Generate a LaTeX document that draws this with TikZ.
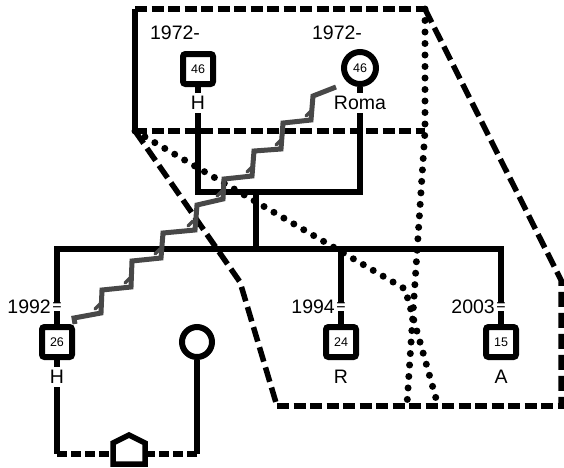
\documentclass[tikz,border=0pt]{standalone}
\usepackage{fontspec}
\setmainfont{Liberation Sans}
\definecolor{stairgray}{RGB}{72,72,72}
\tikzset{
  rel/.style={line width=5.5pt, line join=miter},
  reldash/.style={line width=5.5pt, dash pattern=on 10pt off 4pt},
  frdash/.style={line width=5.5pt, dash pattern=on 12pt off 4.5pt},
  frdashlong/.style={line width=5.5pt, dash pattern=on 15pt off 6pt},
  frdot/.style={line width=7pt, dash pattern=on 0pt off 11.5pt, line cap=round},
  stairline/.style={draw=stairgray, line width=5pt, line join=miter},
  malebox/.style={draw, line width=6pt, minimum size=30pt, rounded corners=2.5pt, fill=white, inner sep=0pt, font=\fontsize{12.5}{13}\selectfont},
  femalebox/.style={draw, circle, line width=6pt, minimum size=32pt, fill=white, inner sep=0pt, font=\fontsize{12.5}{13}\selectfont},
  lbl/.style={font=\fontsize{19.5}{20}\selectfont, inner sep=0pt},
  namelbl/.style={font=\fontsize{19.5}{20}\selectfont, fill=white, inner sep=3.5pt},
  eqmark/.style={font=\fontsize{16}{16}\selectfont, fill=white, inner sep=0.4pt}
}
\begin{document}
\begin{tikzpicture}[x=1pt,y=-1pt]
\useasboundingbox (0,0) rectangle (564,467);

% ---- frame (zoom projection) ----
\coordinate (tl) at (135,9);
\coordinate (tr) at (425,9);
\coordinate (bl) at (135,131);
\coordinate (br) at (425,131);
\draw[line width=5.5pt] (bl) -- (tl);
\draw[frdash] (tl) -- (tr);
\draw[frdash] (bl) -- (br);
\draw[frdot] (tr) -- (br) -- (407,404);
\draw[frdot] (bl) -- (405,289) -- (437,402);
\draw[frdashlong] (bl) -- (240,282) -- (277,406);
\draw[frdash] (277,406) -- (566,406);
\draw[frdashlong] (tr) -- (561,280) -- (561,408);

% ---- people ----
\node[malebox] (f46) at (198,69) {46};
\node[femalebox] (m46) at (360,68) {46};
\node[malebox] (s26) at (57,342) {26};
\node[malebox] (s24) at (341,342) {24};
\node[malebox] (s15) at (501,342) {15};
\node[femalebox, minimum size=30pt] (pw) at (197,342) {};

% ---- relation lines ----
\coordinate (pl) at (198,192);
\coordinate (pr) at (360,192);
\coordinate (pc) at (256,192);
\coordinate (sc) at (256,249);
\coordinate (sl) at (57,249);
\coordinate (sm) at (341,249);
\coordinate (sr) at (501,249);
\draw[rel] (f46.south) -- (pl) -- (pr) -- (m46.south);
\draw[rel] (pc) -- (sc);
\draw[rel] (s26.north) -- (sl) -- (sr) -- (s15.north);
\draw[rel] (sm) -- (s24.north);

% lower couple
\coordinate (cl) at (57,454);
\coordinate (cr) at (197,454);
\coordinate (hl) at (113,454);
\coordinate (hr) at (145,454);
\draw[rel] (s26.south) -- (cl);
\draw[rel] (pw.south) -- (cr);
\draw[reldash] (cl) -- (hl);
\draw[reldash] (hr) -- (cr);
\draw[rel] (cl) -- +(7,0);
\draw[rel] (cr) -- +(-7,0);
\draw[line width=5.5pt, line join=miter, fill=white] (113,464) -- (113,443) -- (129,435) -- (145,443) -- (145,464) -- cycle;

% ---- staircase relation ----
\draw[stairline] (336,87) -- (313,96) -- (311,120) -- (283,123) -- (281,149) -- (254,151) -- (252,176) -- (224,179) -- (223,199) -- (197,205) -- (195,230) -- (163,233) -- (161,258) -- (132,261) -- (131,287) -- (102,290) -- (101,313) -- (74,318) -- (s26.north east);
\foreach \p in {(306,116),(276,145),(247,172),(217,196),(188,226),(155,254),(125,283),(95,309)}
  \draw[stairgray, line width=3.5pt, line cap=round] \p -- ++(5,-5);

% ---- labels ----
\node[lbl] at (175,33) {1972-};
\node[lbl] at (337,33) {1972-};
\node[namelbl] at (198,103) {H};
\node[namelbl] at (360,103) {Roma};
\node[namelbl] at (57,377) {H};
\node[lbl] at (341,377) {R};
\node[lbl] at (501,377) {A};
\node[lbl, anchor=east] at (51,307) {1992};
\node[lbl, anchor=east] at (335,307) {1994};
\node[lbl, anchor=east] at (495,307) {2003};
\node[eqmark] at (57,307) {=};
\node[eqmark] at (341,307) {=};
\node[eqmark] at (501,307) {=};
\end{tikzpicture}
\end{document}
